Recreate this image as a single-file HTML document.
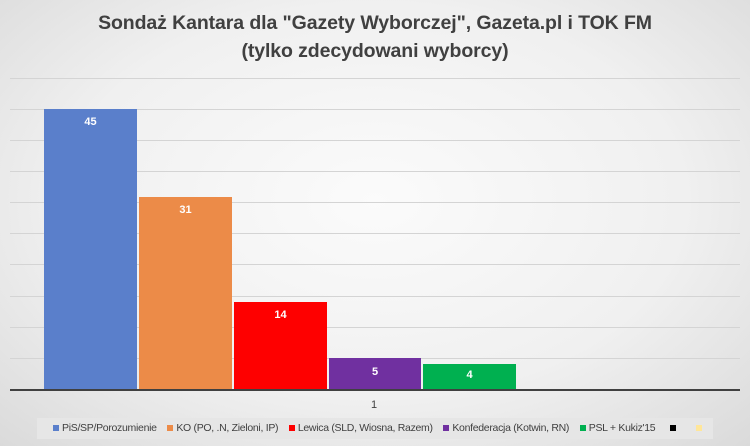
<!DOCTYPE html>
<html><head><meta charset="utf-8"><style>
body{margin:0}
#c{position:relative;width:750px;height:446px;overflow:hidden;font-family:"Liberation Sans",sans-serif;
background:radial-gradient(ellipse 75% 80% at 50% 45%,#fbfbfb 0%,#f0f0f0 55%,#d8d8d8 100%);}
.t{position:absolute;left:0;width:750px;text-align:center;font-weight:bold;font-size:19.5px;color:#404040;letter-spacing:-0.1px}
.g{position:absolute;left:10px;width:730px;height:1px;background:#d4d4d4}
.b{position:absolute;color:#fff;font-weight:bold;font-size:11px;text-align:center;padding-top:7px;box-sizing:border-box}
.lg{position:absolute;left:37px;top:418px;width:676px;height:21px;background:#e6e6e6;font-size:10.5px;letter-spacing:-0.3px;color:#404040;line-height:21px;white-space:nowrap}
.lg span{display:inline-block;width:6px;height:6px;margin:0 3px 0 8px}
</style></head><body><div id="c">
<div class="t" style="top:12px">Sondaż Kantara dla "Gazety Wyborczej", Gazeta.pl i TOK FM</div>
<div class="t" style="top:40px">(tylko zdecydowani wyborcy)</div>
<div class="g" style="top:78px"></div><div class="g" style="top:109px"></div><div class="g" style="top:140px"></div>
<div class="g" style="top:171px"></div><div class="g" style="top:202px"></div><div class="g" style="top:233px"></div>
<div class="g" style="top:264px"></div><div class="g" style="top:296px"></div><div class="g" style="top:327px"></div>
<div class="g" style="top:358px"></div>
<div class="b" style="left:44px;top:109px;width:93px;height:280px;background:#5a7fcb">45</div>
<div class="b" style="left:139px;top:197px;width:93px;height:192px;background:#ec8b48">31</div>
<div class="b" style="left:234px;top:302px;width:93px;height:87px;background:#fe0000">14</div>
<div class="b" style="left:329px;top:358px;width:92px;height:31px;background:#7030a0;padding-top:8px">5</div>
<div class="b" style="left:423px;top:364px;width:93px;height:25px;background:#00b050;padding-top:5px">4</div>
<div style="position:absolute;left:10px;top:389px;width:730px;height:2px;background:#404040"></div>
<div style="position:absolute;left:371px;top:399px;font-size:11px;color:#404040">1</div>
<div class="lg"><span style="background:#5a7fcb;margin-left:16px"></span>PiS/SP/Porozumienie <span style="background:#ec8b48"></span>KO (PO, .N, Zieloni, IP) <span style="background:#fe0000"></span>Lewica (SLD, Wiosna, Razem) <span style="background:#7030a0"></span>Konfederacja (Kotwin, RN) <span style="background:#00b050"></span>PSL + Kukiz'15 <span style="background:#000;margin-left:12px"></span> <span style="background:#ffe699;margin-left:14px"></span></div>
</div></body></html>
